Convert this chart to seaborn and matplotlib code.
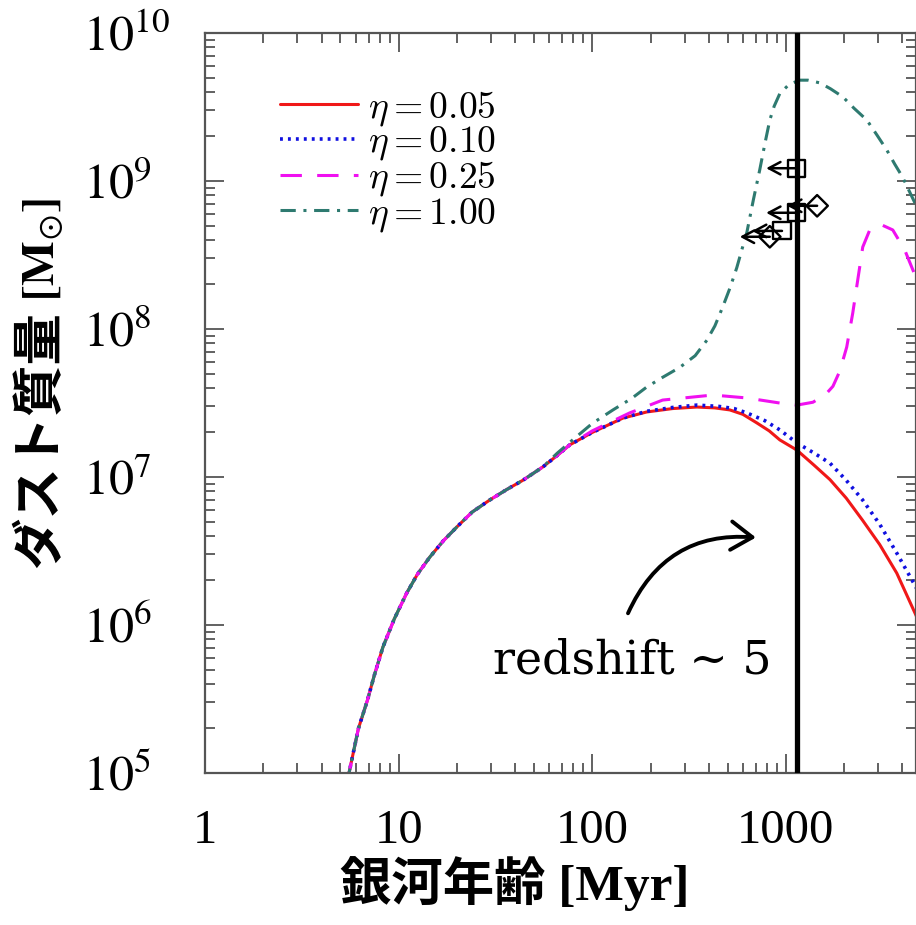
import numpy as np
import pandas as pd
import matplotlib
matplotlib.use("Agg")
import matplotlib.pyplot as plt
import seaborn as sns
from matplotlib.font_manager import FontProperties
from matplotlib.ticker import LogLocator, NullFormatter

# ---------------- data ----------------
# shared early evolution (all eta curves overlap)
early_age = [5.4, 6.2, 6.9, 7.5, 8.3, 9.5, 11.0, 12.5, 14.5, 17.0, 20.0, 24.0, 29.6, 36.0,
             43.8, 55.6]
early_mass = [8.5e4, 2.0e5, 3.1e5, 4.6e5, 7.1e5, 1.1e6, 1.64e6, 2.2e6, 2.88e6, 3.7e6, 4.6e6,
              5.8e6, 7.0e6, 8.2e6, 9.5e6, 1.17e7]

red_age = [66, 76.6, 100, 144, 191, 260, 347, 430, 513, 600, 708, 820, 931, 1140, 1400,
           1690, 2050, 2490, 3050, 3740, 4690, 5200]
red_mass = [1.4e7, 1.65e7, 2.0e7, 2.5e7, 2.75e7, 2.9e7, 2.97e7, 2.93e7, 2.84e7, 2.65e7,
            2.32e7, 2.05e7, 1.78e7, 1.52e7, 1.2e7, 9.6e6, 7.2e6, 5.1e6, 3.5e6, 2.24e6,
            1.17e6, 8.5e5]

blue_age = [66, 76.6, 100, 144, 191, 260, 347, 450, 540, 629, 780, 931, 1140, 1400, 1690,
            2050, 2490, 3050, 3740, 4690, 5200]
blue_mass = [1.4e7, 1.65e7, 2.0e7, 2.5e7, 2.78e7, 2.95e7, 3.06e7, 3.0e7, 2.9e7, 2.71e7,
             2.4e7, 2.08e7, 1.70e7, 1.45e7, 1.24e7, 9.5e6, 7.0e6, 4.8e6, 3.06e6, 1.81e6,
             1.4e6]

mag_age = [66, 76.6, 100, 156, 231, 420, 629, 931, 1140, 1380, 1600, 1750, 1900, 2062, 2215,
           2350, 2495, 2712, 3126, 3565, 4110, 4690, 5200]
mag_mass = [1.4e7, 1.65e7, 2.05e7, 2.71e7, 3.31e7, 3.58e7, 3.42e7, 3.16e7, 3.06e7, 3.2e7,
            3.6e7, 4.1e7, 5.2e7, 7.55e7, 1.28e8, 2.14e8, 3.58e8, 4.67e8, 5.05e8, 4.67e8,
            3.42e8, 2.24e8, 1.7e8]

teal_age = [66, 80, 100, 128, 160, 191, 230, 283, 340, 391, 430, 472, 515, 558, 595, 629,
            680, 733, 780, 826, 870, 931, 1040, 1180, 1300, 1500, 1700, 1970, 2250, 2620,
            2950, 3320, 3650, 4010, 4690, 5200]
teal_mass = [1.45e7, 1.8e7, 2.3e7, 2.84e7, 3.4e7, 4.05e7, 4.7e7, 5.5e7, 6.6e7, 8.4e7, 1.05e8,
             1.41e8, 1.9e8, 2.6e8, 3.5e8, 4.5e8, 7.5e8, 1.19e9, 1.8e9, 2.58e9, 3.2e9, 3.9e9,
             4.5e9, 4.8e9, 4.8e9, 4.6e9, 4.2e9, 3.7e9, 3.1e9, 2.58e9, 2.05e9, 1.62e9, 1.3e9,
             1.06e9, 6.9e8, 5.2e8]

eta_labels = [r"$\eta=0.05$", r"$\eta=0.10$", r"$\eta=0.25$", r"$\eta=1.00$"]

# observed upper limits (squares and diamonds)
sq_age = [1130, 1130, 955]
sq_mass = [1.22e9, 6.1e8, 4.6e8]
dm_age = [1450, 826]
dm_mass = [6.8e8, 4.2e8]

z5_age = 1140  # redshift ~ 5

xticks = [1, 10, 100, 1000]
xticklabels = ["1", "10", "100", "1000"]
yticks = [1e5, 1e6, 1e7, 1e8, 1e9, 1e10]
yticklabels = [r"$10^{5}$", r"$10^{6}$", r"$10^{7}$", r"$10^{8}$", r"$10^{9}$", r"$10^{10}$"]

# ---------------- figure ----------------
sns.set_theme(style="ticks")
plt.rcParams["font.family"] = ["Liberation Serif", "Noto Sans CJK JP", "DejaVu Sans"]
plt.rcParams["text.color"] = "black"
plt.rcParams["axes.labelcolor"] = "black"
plt.rcParams["xtick.labelcolor"] = "black"
plt.rcParams["ytick.labelcolor"] = "black"

W, H = 916, 925
fig = plt.figure(figsize=(W / 100, H / 100), dpi=100)
ax = fig.add_axes([205 / W, 1 - 773 / H, 711 / W, 740 / H])

series = [
    (red_age, red_mass, "#f01818", "-", 2.2),
    (blue_age, blue_mass, "#1010e0", (0, (0.8, 1.4)), 2.6),
    (mag_age, mag_mass, "#f010f0", (0, (7, 5)), 2.2),
    (teal_age, teal_mass, "#2e7a70", (0, (5, 2.5, 1, 2.5)), 2.2),
]
handles = []
for (a, m, c, ls, lw), lab in zip(series, eta_labels):
    df = pd.DataFrame({"age": early_age + a, "mass": early_mass + m})
    sns.lineplot(data=df, x="age", y="mass", ax=ax, color=c, linestyle=ls, linewidth=lw,
                 estimator=None, sort=False, label=lab)
    handles.append(ax.lines[-1])

ax.set_xscale("log")
ax.set_yscale("log")
ax.set_xlim(1, 4700)
ax.set_ylim(1e5, 1e10)

# redshift ~5 line
ax.axvline(z5_age, color="black", lw=3.8, zorder=5)

# upper limits
for a, m in zip(sq_age + dm_age, sq_mass + dm_mass):
    ax.annotate("", xy=(a * 0.7, m), xytext=(a, m),
                arrowprops=dict(arrowstyle="->,head_length=0.6,head_width=0.32",
                                color="black", lw=1.8, mutation_scale=14,
                                shrinkA=0, shrinkB=0), zorder=6)
sns.scatterplot(x=sq_age, y=sq_mass, ax=ax, marker="s", s=150, facecolor="none",
                edgecolor="black", linewidth=1.7, zorder=7, legend=False)
sns.scatterplot(x=dm_age, y=dm_mass, ax=ax, marker="D", s=120, facecolor="none",
                edgecolor="black", linewidth=1.7, zorder=7, legend=False)

# annotation
ax.annotate("", xy=(700, 3.9e6), xytext=(153, 1.2e6),
            arrowprops=dict(arrowstyle="->,head_length=0.45,head_width=0.3", color="black",
                            lw=2.8, mutation_scale=34,
                            connectionstyle="arc3,rad=-0.35", shrinkA=0, shrinkB=0))
ax.text(160, 5.7e5, "redshift ~ 5", fontsize=33, family="DejaVu Serif",
        ha="center", va="center")

# ticks
ax.set_xticks(xticks)
ax.set_xticklabels(xticklabels, fontsize=35)
ax.xaxis.set_minor_locator(LogLocator(base=10, subs=np.arange(2, 10), numticks=20))
ax.xaxis.set_minor_formatter(NullFormatter())
ax.set_yticks(yticks)
ax.set_yticklabels(yticklabels, fontsize=36, ha="left")
for t in ax.get_yticklabels():
    t.set_math_fontfamily("stix")
ax.yaxis.set_minor_locator(LogLocator(base=10, subs=np.arange(2, 10), numticks=20))
ax.yaxis.set_minor_formatter(NullFormatter())
ax.tick_params(which="both", direction="in", top=True, right=True, color="#555555",
               width=1.3)
ax.tick_params(which="major", length=14)
ax.tick_params(which="minor", length=7)
ax.tick_params(axis="x", which="major", pad=26)
ax.tick_params(axis="y", which="major", pad=88)
for s in ax.spines.values():
    s.set_color("#555555")
    s.set_linewidth(1.6)

# labels
ax.set_xlabel("銀河年齢 [Myr]", fontsize=37, fontweight="bold")
ax.xaxis.set_label_coords((515 - 205) / 711, -0.112)
ax.set_ylabel("")
ax.text((42 - 205) / 711, (773 - 440) / 740, "ダスト質量", rotation=90, fontsize=37,
        fontweight="bold", ha="center", va="center", transform=ax.transAxes)
tm = ax.text((44 - 205) / 711, (773 - 250) / 740, r"$\mathbf{[M}_{\odot}\mathbf{]}$",
             rotation=90, fontsize=34, ha="center", va="center", transform=ax.transAxes)
tm.set_math_fontfamily("stix")

# legend
ax.legend(handles=handles, labels=eta_labels, loc="upper left",
          bbox_to_anchor=(0.105, 0.925), frameon=False, borderaxespad=0, borderpad=0,
          prop=FontProperties(size=27, math_fontfamily="cm"), handlelength=2.1,
          handletextpad=0.25, labelspacing=-0.08)

fig.savefig("out.png", dpi=100)
